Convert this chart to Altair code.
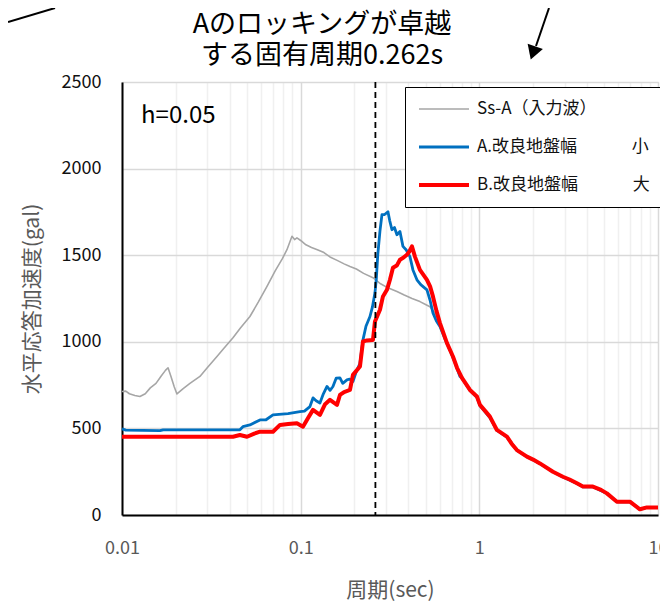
import altair as alt
import pandas as pd

# ---- data ----
series_names = ["Ss-A（入力波）", "A.改良地盤幅　　　  小", "B.改良地盤幅　　　  大"]
series_colors = ["#A6A6A6", "#0070C0", "#FF0000"]
series_widths = [1.6, 4, 4]

period_ss = [0.01, 0.0105, 0.011, 0.0118, 0.0126, 0.0135, 0.0144, 0.0155, 0.0165, 0.0175,
             0.0181, 0.0188, 0.0196, 0.0203, 0.022, 0.024, 0.0273, 0.030, 0.034, 0.037,
             0.0418, 0.046, 0.052, 0.058, 0.0648, 0.072, 0.079, 0.0838, 0.0894, 0.0925,
             0.0953, 0.10, 0.107, 0.115, 0.125, 0.135, 0.1459, 0.16, 0.175, 0.1888,
             0.205, 0.225, 0.2539, 0.28, 0.31, 0.3458, 0.38, 0.42, 0.4651, 0.5,
             0.5292, 0.56, 0.602, 0.659, 0.7117, 0.7992, 0.886, 0.9696, 1.008, 1.146,
             1.254, 1.427, 1.623, 1.847, 2.183, 2.582, 2.936, 3.518, 3.799, 4.322,
             5.176, 5.888, 6.96, 7.918, 8.668, 10]
accel_ss = [713, 715, 700, 690, 684, 700, 734, 760, 800, 835,
            850, 800, 740, 699, 730, 760, 800, 850, 915, 960,
            1023, 1080, 1146, 1230, 1320, 1410, 1480, 1532, 1609, 1590,
            1600, 1585, 1560, 1545, 1530, 1515, 1490, 1470, 1450, 1435,
            1420, 1395, 1370, 1335, 1310, 1290, 1270, 1250, 1232, 1215,
            1202, 1170, 1110, 985, 905, 785, 715, 675, 630, 560,
            488, 448, 372, 335, 296, 248, 219, 181, 163, 162,
            123, 76, 76, 32, 43, 43]

period_a = [0.01, 0.0105, 0.0163, 0.017, 0.0457, 0.0475, 0.052, 0.0592, 0.064, 0.070,
            0.085, 0.0991, 0.105, 0.1127, 0.1172, 0.122, 0.1282, 0.134, 0.1404, 0.146,
            0.1516, 0.158, 0.1659, 0.172, 0.1816, 0.188, 0.1962, 0.205, 0.2147, 0.2232,
            0.232, 0.2443, 0.252, 0.2605, 0.265, 0.270, 0.2779, 0.2851, 0.295, 0.308,
            0.315, 0.3243, 0.335, 0.3458, 0.3595, 0.3737, 0.39, 0.4089, 0.425, 0.4475,
            0.47, 0.5091, 0.53, 0.55, 0.575, 0.602, 0.64, 0.685, 0.73, 0.7788,
            0.80, 0.886, 0.9696, 1.008, 1.146, 1.254, 1.427, 1.623, 1.847, 2.183,
            2.582, 2.936, 3.518, 3.799, 4.322, 5.176, 5.888, 6.96, 7.918, 8.668, 10]
accel_a = [497, 490, 487, 492, 492, 510, 520, 549, 550, 578,
           585, 597, 600, 626, 676, 660, 647, 700, 742, 720,
           742, 790, 792, 760, 780, 785, 771, 830, 876, 1011,
           1090, 1146, 1200, 1283, 1360, 1500, 1640, 1734, 1735, 1751,
           1700, 1647, 1660, 1618, 1637, 1551, 1530, 1492, 1415, 1358,
           1330, 1300, 1240, 1166, 1120, 1088, 1020, 953, 880, 800,
           790, 720, 680, 632, 562, 489, 450, 373, 336, 297,
           249, 220, 182, 163, 163, 124, 76, 76, 33, 44, 44]

period_b = [0.01, 0.0418, 0.0457, 0.0501, 0.055, 0.0592, 0.070, 0.0766, 0.085, 0.0953,
            0.103, 0.11, 0.1172, 0.1282, 0.137, 0.1459, 0.1597, 0.1659, 0.175, 0.1888,
            0.1962, 0.2147, 0.2232, 0.235, 0.2539, 0.2605, 0.2779, 0.2888, 0.304, 0.316,
            0.3285, 0.345, 0.3595, 0.375, 0.3934, 0.405, 0.4196, 0.4361, 0.4651, 0.5091,
            0.53, 0.55, 0.575, 0.602, 0.659, 0.7117, 0.75, 0.7992, 0.886, 0.9696,
            1.008, 1.08, 1.146, 1.254, 1.427, 1.52, 1.623, 1.847, 2.0, 2.183,
            2.582, 2.936, 3.2, 3.518, 3.799, 4.322, 4.8, 5.176, 5.888, 6.96,
            7.918, 8.668, 10]
accel_b = [452, 452, 462, 452, 470, 481, 481, 520, 525, 530,
           510, 560, 607, 578, 640, 665, 636, 693, 710, 722,
           809, 857, 1002, 1008, 1011, 1117, 1185, 1262, 1300, 1358,
           1427, 1440, 1474, 1485, 1503, 1520, 1551, 1492, 1415, 1358,
           1320, 1262, 1180, 1108, 992, 915, 850, 792, 722, 684,
           636, 600, 568, 491, 452, 410, 375, 337, 320, 298,
           250, 221, 205, 183, 164, 164, 145, 125, 77, 77,
           33, 44, 44]

natural_period = [0.262]
title_lines = ["Aのロッキングが卓越", "する固有周期0.262s"]
damping_label = ["h=0.05"]
x_ticks = [m * 10 ** e for e in (-2, -1, 0) for m in range(1, 10)] + [10]
y_ticks = [0, 500, 1000, 1500, 2000, 2500]

FONT = "Noto Sans CJK JP"

def frame(periods, accels, name):
    return pd.DataFrame({"period": periods, "accel": accels, "series": name})

df_ss = frame(period_ss, accel_ss, series_names[0])
df_a = frame(period_a, accel_a, series_names[1])
df_b = frame(period_b, accel_b, series_names[2])

pow10 = "abs(log(datum.value)/LN10 - round(log(datum.value)/LN10)) < 0.001"

x_enc = alt.X(
    "period:Q",
    scale=alt.Scale(type="log", domain=[0.01, 10]),
    axis=alt.Axis(
        values=x_ticks,
        labelExpr="datum.value == 0.01 ? '0.01' : datum.value == 0.1 ? '0.1' : datum.value == 1 ? '1' : datum.value == 10 ? '10' : ''",
        title="周期(sec)",
        grid=True,
        gridColor={"condition": {"test": pow10, "value": "#D9D9D9"}, "value": "#F0F0F0"},
        gridWidth=1.5,
        ticks=False,
        domainColor="black",
        domainWidth=2,
        labelFontSize=18,
        labelColor="#595959",
        labelPadding=24,
        labelFlush=False,
        titleFontSize=21,
        titleColor="#595959",
        titleFontWeight="normal",
        titlePadding=22,
    ),
)
y_enc = alt.Y(
    "accel:Q",
    scale=alt.Scale(domain=[0, 2500], nice=False),
    axis=alt.Axis(
        values=y_ticks,
        format="d",
        title="水平応答加速度(gal)",
        grid=True,
        gridColor="#D9D9D9",
        gridWidth=1.5,
        ticks=False,
        domainColor="black",
        domainWidth=2,
        labelFontSize=18,
        labelColor="#111111",
        labelPadding=21,
        titleFontSize=21,
        titleColor="#595959",
        titleFontWeight="normal",
        titlePadding=19,
    ),
)
legend_opts = dict(
    title=None,
    orient="none",
    legendX=283,
    legendY=5,
    fillColor="white",
    strokeColor="black",
    padding=12,
    symbolType="stroke",
    symbolSize=2500,
    clipHeight=20,
    rowPadding=18,
    labelFontSize=17,
    labelColor="#111111",
    labelFont=FONT,
    labelLimit=0,
    labelOffset=6,
)
color_enc = alt.Color(
    "series:N",
    scale=alt.Scale(domain=series_names, range=series_colors),
    legend=alt.Legend(**legend_opts),
)
width_enc = alt.StrokeWidth(
    "series:N",
    scale=alt.Scale(domain=series_names, range=series_widths),
    legend=alt.Legend(**legend_opts),
)

def line_layer(df):
    return alt.Chart(df).mark_line(strokeJoin="round").encode(
        x=x_enc, y=y_enc, color=color_enc, strokeWidth=width_enc
    )

rule = alt.Chart(pd.DataFrame({"period": natural_period})).mark_rule(
    color="black", strokeDash=[6, 4], strokeWidth=1.8
).encode(x="period:Q")

h_text = alt.Chart(pd.DataFrame({"t": damping_label})).mark_text(
    align="left", baseline="alphabetic", fontSize=24, font=FONT, color="black"
).encode(text="t:N", x=alt.value(19), y=alt.value(41))

title1 = alt.Chart(pd.DataFrame({"t": title_lines[:1]})).mark_text(
    align="center", baseline="middle", fontSize=27, font=FONT, color="black"
).encode(text="t:N", x=alt.value(200), y=alt.value(-57))
title2 = alt.Chart(pd.DataFrame({"t": title_lines[1:]})).mark_text(
    align="center", baseline="middle", fontSize=27, font=FONT, color="black"
).encode(text="t:N", x=alt.value(200), y=alt.value(-26))

arrow_left = alt.Chart(pd.DataFrame({"a": [0]})).mark_rule(color="black", strokeWidth=2).encode(
    x=alt.value(-114), y=alt.value(-60), x2=alt.value(-67), y2=alt.value(-74)
)
arrow_right = alt.Chart(pd.DataFrame({"a": [0]})).mark_rule(color="black", strokeWidth=2).encode(
    x=alt.value(427), y=alt.value(-74), x2=alt.value(414), y2=alt.value(-36)
)
arrow_head = alt.Chart(pd.DataFrame({"a": [0]})).mark_point(
    shape="triangle-down", filled=True, color="black", size=260, angle=19, opacity=1
).encode(x=alt.value(411), y=alt.value(-29))

chart = alt.layer(
    line_layer(df_ss), line_layer(df_a), line_layer(df_b), rule, h_text,
    title1, title2, arrow_left, arrow_right, arrow_head,
).properties(
    width=536,
    height=433,
    autosize=alt.AutoSizeParams(type="none"),
    padding={"left": 114, "top": 74, "right": 2, "bottom": 90},
).configure_view(
    stroke="black", strokeWidth=2
).configure_axis(
    labelFont=FONT, titleFont=FONT
).configure(
    font=FONT
)

chart.save("out.html", embed_options={"renderer": "svg", "actions": False})
